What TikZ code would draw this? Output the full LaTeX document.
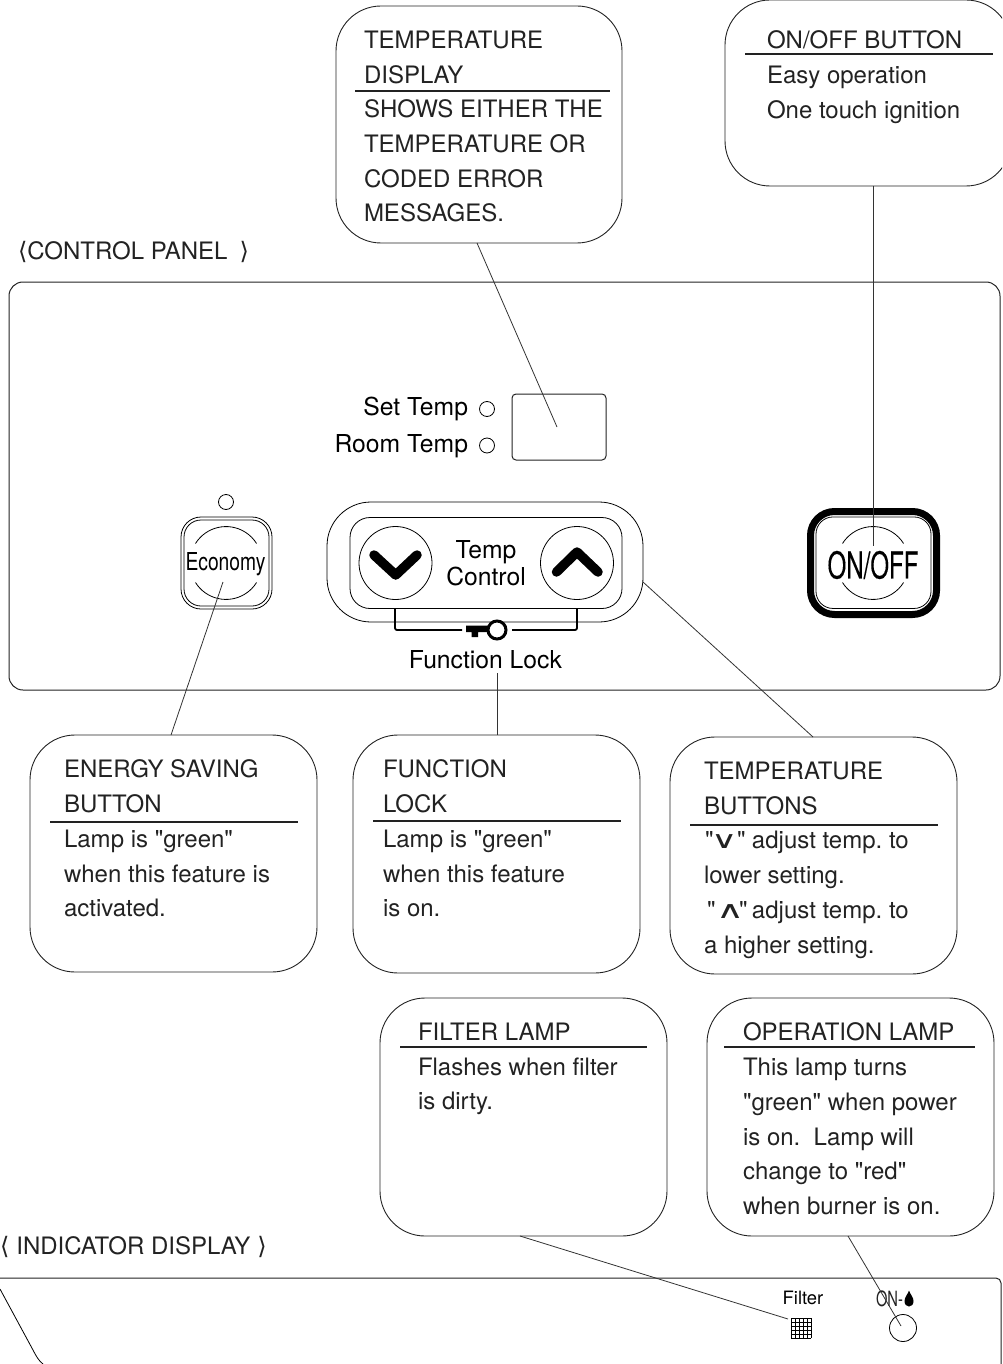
\documentclass[tikz,border=0pt]{standalone}
\usepackage{fontspec}
\usepackage{graphicx}
\setmainfont[Ligatures=TeXOff]{TeX Gyre Heros}
\newfontfamily\symfont{DejaVu Sans}
\newfontfamily\heavyfont[Ligatures=TeXOff,FakeBold=0.3]{TeX Gyre Heros}
\definecolor{ink}{HTML}{222222}
\definecolor{wire}{HTML}{333333}
\newcommand{\anglel}{{\symfont ⟨}}
\newcommand{\angler}{{\symfont ⟩}}
\tikzset{
  callout/.style={draw=ink,line width=0.9pt,rounded corners=45pt,inner sep=0pt,outer sep=0pt,fill=none},
  calltext/.style={anchor=north west,align=left,inner sep=0pt,outer sep=0pt,text=ink,font=\fontsize{24}{34.7}\selectfont\frenchspacing},
  label/.style={anchor=base west,inner sep=0pt,outer sep=0pt,text=ink,font=\fontsize{24}{28}\selectfont},
  paneltext/.style={inner sep=0pt,outer sep=0pt,text=black,font=\fontsize{24.7}{27}\selectfont,align=center},
  headrule/.style={draw=ink,line width=1.8pt},
  conn/.style={draw=wire,line width=0.8pt},
  thinline/.style={draw=black,line width=0.8pt},
  lamp/.style={draw=black,line width=0.8pt,circle,inner sep=0pt,outer sep=0pt},
  panel/.style={draw=ink,line width=1pt},
  chev/.style={draw=black,line width=9.5pt,line cap=round,line join=round}
}
\begin{document}
\begin{tikzpicture}[x=1pt,y=-1pt]
\useasboundingbox (0,0) rectangle (1002,1364);
\clip (0,0) rectangle (1002,1364);
% callouts
\node[callout,minimum width=286pt,minimum height=237pt] (tempBox) at (479,124.5) {};
\node[callout,minimum width=286pt,minimum height=186pt] (onBox) at (868,93) {};
\node[callout,minimum width=287pt,minimum height=237pt] (ecoBox) at (173.5,853.5) {};
\node[callout,minimum width=287pt,minimum height=238pt] (lockBox) at (496.5,854) {};
\node[callout,minimum width=287pt,minimum height=237pt] (btnBox) at (813.5,855.5) {};
\node[callout,minimum width=287pt,minimum height=238pt] (filtBox) at (523.5,1117) {};
\node[callout,minimum width=287pt,minimum height=238pt] (opBox) at (850.5,1117) {};
% rules
\draw[headrule] (355,91) -- (610,91);
\draw[headrule] (745,54) -- (993,54);
\draw[headrule] (50,822) -- (298,822);
\draw[headrule] (373,821) -- (621,821);
\draw[headrule] (690,825) -- (938,825);
\draw[headrule] (400,1047) -- (647,1047);
\draw[headrule] (724,1047) -- (975,1047);
% callout text
\node[calltext] (tempText) at (364,31) {TEMPERATURE\\DISPLAY\\SHOWS EITHER THE\\TEMPERATURE OR\\CODED ERROR\\MESSAGES.};
\node[calltext] (onText) at (767,31) {ON/OFF BUTTON\\Easy operation\\One touch ignition};
\node[calltext] (ecoText) at (64,760) {ENERGY SAVING\\BUTTON\\Lamp is "green"\\when this feature is\\activated.};
\node[calltext] (lockText) at (383,760) {FUNCTION\\LOCK\\Lamp is "green"\\when this feature\\is on.};
\node[calltext] (btnText) at (704,762) {TEMPERATURE\\BUTTONS\\\makebox[0pt][l]{\kern1pt"}\makebox[0pt][l]{\kern7pt\scalebox{1.5}[1]{\symfont ∨}}\makebox[0pt][l]{\kern33pt"}\kern48pt adjust temp. to\\lower setting.\\\makebox[0pt][l]{\kern3pt"}\makebox[0pt][l]{\kern12pt\scalebox{1.6}[1]{\symfont ∧}}\makebox[0pt][l]{\kern35pt"}\kern48pt adjust temp. to\\a higher setting.};
\node[calltext] (filtText) at (418,1023) {FILTER LAMP\\Flashes when filter\\is dirty.};
\node[calltext] (opText) at (743,1023) {OPERATION LAMP\\This lamp turns\\"green" when power\\is on.\ \ Lamp will\\change to "red"\\when burner is on.};
% section labels
\node[label] (ctlLabel) at (18,259.5) {\anglel\kern0pt CONTROL PANEL\kern12pt\angler};
\node[label] (indLabel) at (0,1254) {\anglel\kern7pt INDICATOR DISPLAY\kern7pt\angler};
% control panel
\node[draw=ink,line width=1pt,rounded corners=14pt,minimum width=991pt,minimum height=408pt,inner sep=0pt,outer sep=0pt] (ctlPanel) at (504.5,486) {};
\node[draw=ink,line width=1pt,rounded corners=4pt,minimum width=94pt,minimum height=66pt,inner sep=0pt,outer sep=0pt] (display) at (559,427) {};
\node[paneltext,anchor=base east] (setTxt) at (468,415) {Set Temp};
\node[paneltext,anchor=base east] (roomTxt) at (468,452) {Room Temp};
\node[lamp,minimum size=15pt] (setLamp) at (487,409) {};
\node[lamp,minimum size=15pt] (roomLamp) at (487,445.5) {};
% economy
\node[lamp,minimum size=15pt] (ecoLamp) at (226,502) {};
\node[draw=black,line width=0.8pt,rounded corners=20pt,minimum width=91pt,minimum height=92pt,inner sep=0pt,outer sep=0pt] (ecoOut) at (226.5,563) {};
\node[draw=black,line width=0.8pt,rounded corners=17pt,minimum width=85pt,minimum height=86pt,inner sep=0pt,outer sep=0pt] (ecoIn) at (226.5,563) {};
\draw[thinline] (195.5,543.5) arc[start angle=212,end angle=328,radius=36pt,y radius=-36pt];
\draw[thinline] (195.5,582.5) arc[start angle=148,end angle=32,radius=36pt,y radius=-36pt];
\node[paneltext,anchor=base] (ecoTxt) at (225.5,570) {\scalebox{0.78}[1]{Economy}};
% temp control
\node[draw=black,line width=0.8pt,rounded corners=44pt,minimum width=316pt,minimum height=120pt,inner sep=0pt,outer sep=0pt] (tcOut) at (485,562) {};
\node[draw=black,line width=0.8pt,rounded corners=20pt,minimum width=272pt,minimum height=91pt,inner sep=0pt,outer sep=0pt] (tcIn) at (486,563) {};
\node[lamp,minimum size=73pt] (downBtn) at (395.5,563) {};
\node[lamp,minimum size=73pt] (upBtn) at (577,563) {};
\draw[chev] (374,555) -- (395.7,575) -- (417,555);
\draw[chev] (556.5,572) -- (577,552) -- (598,572);
\node[paneltext] (tcTxt) at (486,563) {Temp\\Control};
% function lock
\coordinate (lockL) at (462,630);
\coordinate (lockR) at (512,630);
\draw[draw=black,line width=1.8pt,rounded corners=2pt] (395,608) -- (395,630) -- (lockL);
\draw[draw=black,line width=1.8pt,rounded corners=2pt] (577,608) -- (577,630) -- (lockR);
\fill[black] (466,625.5) rectangle (490,632) (471.5,630) rectangle (478,637);
\node[draw=black,line width=3pt,circle,fill=white,minimum size=18pt,inner sep=0pt,outer sep=0pt] (keyRing) at (497,630) {};
\node[paneltext,anchor=base] (lockTxt) at (485.5,668) {Function Lock};
% on off
\node[draw=black,line width=7pt,rounded corners=24pt,minimum width=126pt,minimum height=103pt,inner sep=0pt,outer sep=0pt] (onOut) at (873.5,563) {};
\node[draw=black,line width=0.8pt,rounded corners=17pt,minimum width=115pt,minimum height=91.5pt,inner sep=0pt,outer sep=0pt] (onIn) at (873.5,562.7) {};
\draw[thinline] (842.5,543.5) arc[start angle=212,end angle=328,radius=36pt,y radius=-36pt];
\draw[thinline] (842.5,582.5) arc[start angle=148,end angle=32,radius=36pt,y radius=-36pt];
\node[paneltext,font=\fontsize{37}{40}\selectfont] (onTxt) at (873,565) {\scalebox{0.65}[1]{\heavyfont ON/OFF}};
% indicator panel
\coordinate (indA) at (-10,1278);
\coordinate (indB) at (1001,1400);
\draw[panel,rounded corners=5pt] (indA) -- (1001,1278) -- (indB);
\coordinate (curveA) at (0,1289);
\coordinate (curveB) at (43,1364);
\draw[thinline] (curveA) -- (33,1350) .. controls (36,1356) and (39,1361) .. (curveB);
\node[paneltext,font=\fontsize{18.4}{20}\selectfont] (filtTxt) at (803,1298) {Filter};
\node[inner sep=0pt,outer sep=0pt,minimum size=20pt] (filtIcon) at (801,1328) {};
\foreach \k in {0,1,2,3,4,5}{
  \draw[draw=black,line width=1pt] (791+4*\k,1318) -- (791+4*\k,1338);
  \draw[draw=black,line width=1pt] (791,1318+4*\k) -- (811,1318+4*\k);
}
\node[paneltext,font=\fontsize{21}{23}\selectfont,text=ink] (onLampTxt) at (889.5,1299) {\scalebox{0.7}[1]{ON-}};
\fill[black] (909,1290.5) .. controls (910,1294) and (913.5,1297) .. (913.5,1301) .. controls (913.5,1304.5) and (911.5,1306.5) .. (909,1306.5) .. controls (906.5,1306.5) and (904.5,1304.5) .. (904.5,1301) .. controls (904.5,1297) and (908,1294) .. (909,1290.5) -- cycle;
\node[lamp,minimum size=27pt] (onLamp) at (903,1328) {};
% connectors
\coordinate (displayEnd) at (557,427);
\coordinate (onEnd) at (873,546);
\coordinate (ecoEnd) at (223,582);
\coordinate (tcEnd) at (643,582);
\coordinate (lockEnd) at (497,673);
\coordinate (filtEnd) at (788,1319);
\coordinate (opEnd) at (901,1326);
\draw[conn] ([xshift=-2pt]tempBox.south) -- (displayEnd);
\draw[conn] ([xshift=5pt]onBox.south) -- (onEnd);
\draw[conn] ([xshift=-2.5pt]ecoBox.north) -- (ecoEnd);
\draw[conn] ([xshift=-0.5pt]btnBox.north) -- (tcEnd);
\draw[conn] ([xshift=0.5pt]lockBox.north) -- (lockEnd);
\draw[conn] ([xshift=-3.5pt]filtBox.south) -- (filtEnd);
\draw[conn] ([xshift=-2.5pt]opBox.south) -- (opEnd);
\end{tikzpicture}
\end{document}
